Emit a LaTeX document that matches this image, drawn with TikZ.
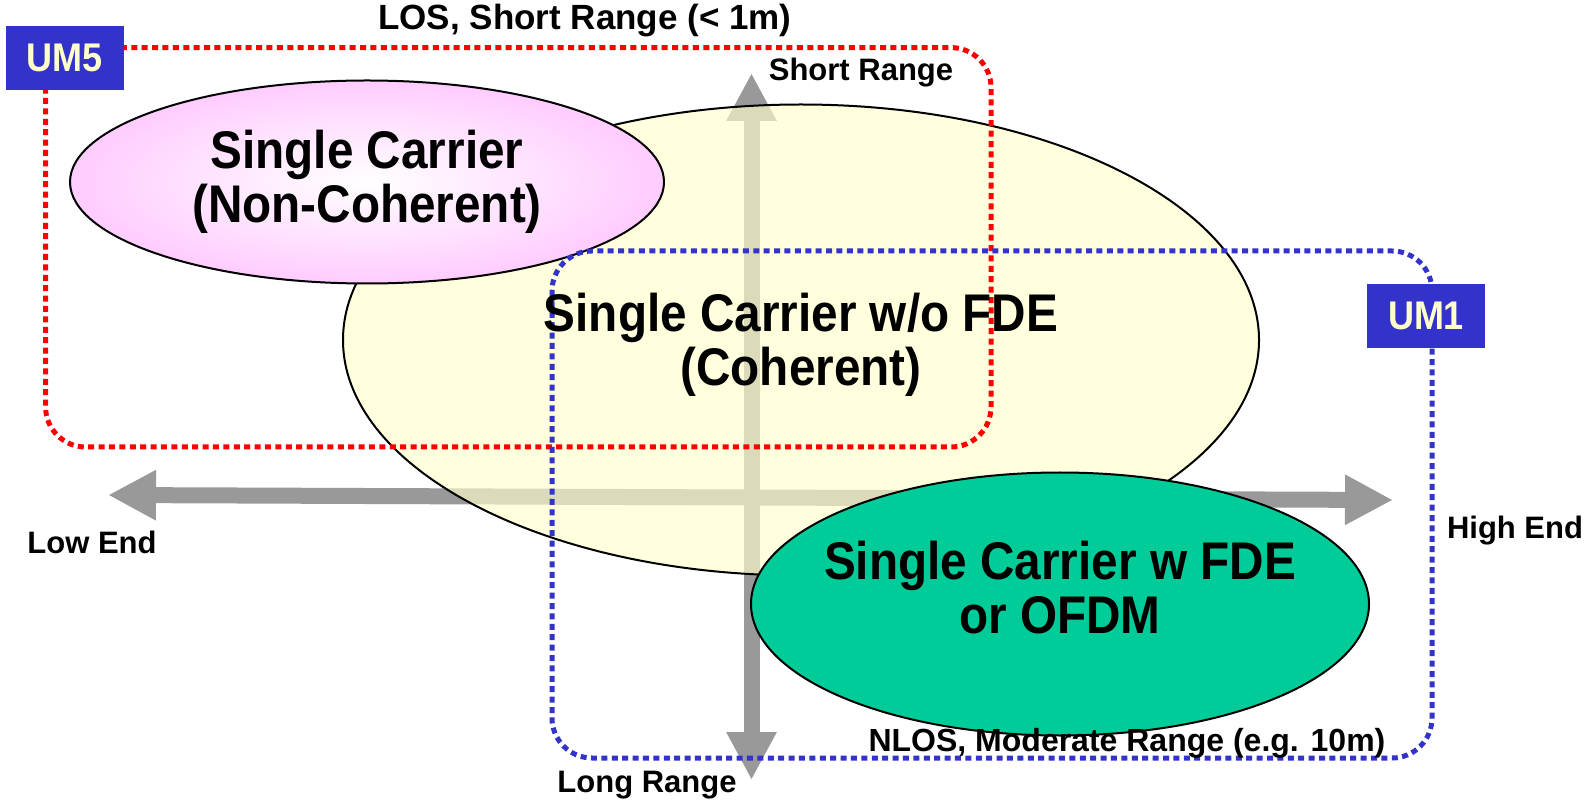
\documentclass[tikz,border=0pt]{standalone}
\usepackage{fontspec}
\setmainfont{Liberation Sans}[FakeStretch=0.9]
\newfontfamily\labelfont{Liberation Sans}
\usetikzlibrary{shapes.geometric,arrows.meta}
\definecolor{umblue}{HTML}{3333CC}
\definecolor{umtext}{HTML}{FFFFCC}
\definecolor{pinkfill}{HTML}{FFCCFF}
\definecolor{creamfill}{HTML}{FFFFCC}
\definecolor{greenfill}{HTML}{00CC99}
\definecolor{axisgray}{HTML}{999999}
\tikzset{
  region/.style={ellipse, draw=black, line width=1pt, inner sep=0pt},
  bigtext/.style={font=\bfseries\fontsize{26.5}{27}\selectfont, align=center},
  axislabel/.style={font=\labelfont\bfseries\fontsize{15.5}{18}\selectfont, inner sep=0pt},
  caselabel/.style={font=\labelfont\bfseries\fontsize{#1}{18}\selectfont, inner sep=0pt},
  umbox/.style={fill=umblue, text=umtext, font=\bfseries\fontsize{20}{20}\selectfont,
    minimum width=59pt, minimum height=32pt, inner sep=0pt},
  losline/.style={red, line width=2.5pt, dash pattern=on 3pt off 2.2pt, rounded corners=20pt},
  nlosline/.style={umblue, line width=2.5pt, dash pattern=on 3pt off 2.2pt, rounded corners=20pt},
  axis/.style={axisgray, line width=8pt,
    {Triangle[width=23.5pt,length=24pt]}-{Triangle[width=23.5pt,length=24pt]}},
}
\begin{document}
\begin{tikzpicture}[x=0.5pt,y=-0.5pt]
  \useasboundingbox (0,0) rectangle (1589,801);

  % axes
  \coordinate (lowtip) at (108,495); \coordinate (hightip) at (1393,500);
  \coordinate (shorttip) at (751.5,73); \coordinate (longtip) at (751.5,780);
  \draw[axis] (lowtip) -- (hightip);
  \draw[axis] (longtip) -- (shorttip);

  % regions
  \node[region, fill=creamfill, fill opacity=0.65, minimum width=458pt,
    minimum height=235.5pt] (coh) at (801,340) {};
  \node[region, inner color=white, outer color=pinkfill, minimum width=297pt,
    minimum height=101.5pt] (noncoh) at (367,182) {};
  \node[region, fill=greenfill, minimum width=309pt, minimum height=131.5pt]
    (fde) at (1060,604) {};

  % use cases
  \draw[losline] (45.6,47.6) rectangle (991,447);
  \draw[nlosline] (552,251) rectangle (1432,758);

  \node[bigtext] (noncohtext) at (noncoh) {Single Carrier\\(Non-Coherent)};
  \node[bigtext] (cohtext) at (801,345) {Single Carrier w/o FDE\\(Coherent)};
  \node[bigtext] (fdetext) at (1060,588) {Single Carrier w FDE\\or OFDM};

  \node[caselabel=17.5] (los) at (585,21) {LOS, Short Range (< 1m)};
  \node[caselabel=16] (nlos) at (1127,743) {NLOS, Moderate Range (e.g. 10m)};
  \node[axislabel] (shortlbl) at (861,73) {Short Range};
  \node[axislabel] (lowlbl) at (92,542) {Low End};
  \node[axislabel] (highlbl) at (1515,531) {High End};
  \node[axislabel] (longlbl) at (647,785) {Long Range};

  \node[umbox] (um5) at (65,58) {UM5};
  \node[umbox] (um1) at (1426,316) {UM1};
\end{tikzpicture}
\end{document}
